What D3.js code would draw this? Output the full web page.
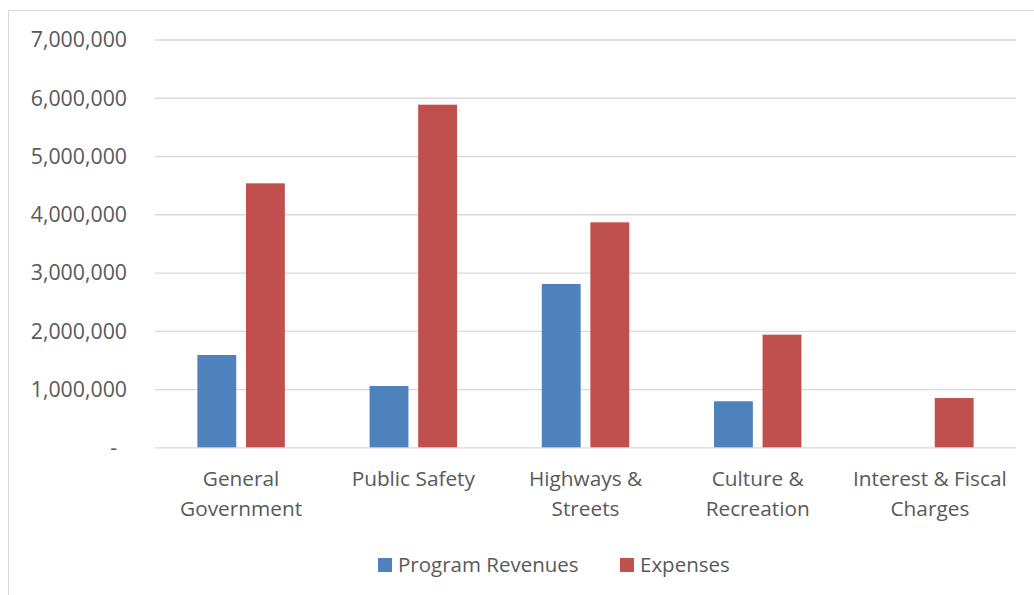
<!DOCTYPE html>
<html><head><meta charset="utf-8">
<script src="https://cdn.jsdelivr.net/npm/d3@7"></script>
<style>
html,body{margin:0;padding:0;background:#fff;}
svg text{font-family:"Open Sans",sans-serif;fill:#595959;}
</style></head>
<body>
<svg id="chart" width="1034" height="595"></svg>
<script>
const categories = ["General Government", "Public Safety", "Highways & Streets", "Culture & Recreation", "Interest & Fiscal Charges"];
const categoryLines = [["General", "Government"], ["Public Safety"], ["Highways &", "Streets"], ["Culture &", "Recreation"], ["Interest & Fiscal", "Charges"]];
const seriesNames = ["Program Revenues", "Expenses"];
const programRevenues = [1584000, 1052000, 2803000, 790000, 0];
const expenses = [4531000, 5881000, 3862000, 1933000, 846000];
const yTicks = [0, 1000000, 2000000, 3000000, 4000000, 5000000, 6000000, 7000000];
const colors = ["#4f81bd", "#c0504d"];

(function () {
const svg = d3.select("#chart");
const W = 1034, H = 595;
const pLeft = 155, pRight = 1016, pTop = 39.5, pBottom = 447.3;

// outer border
svg.append("rect").attr("x", 8.5).attr("y", 10.5).attr("width", W).attr("height", H)
  .attr("fill", "none").attr("stroke", "#d9d9d9").attr("stroke-width", 1);

const x0 = d3.scaleBand().domain(categories).range([pLeft, pRight]).paddingInner(0).paddingOuter(0);
const y = d3.scaleLinear().domain([0, 7000000]).range([pBottom, pTop]);
const bw = x0.bandwidth() / (2.25 + 2.18);
const x1 = d3.scaleOrdinal().domain(seriesNames).range([-1.125 * bw, 0.125 * bw]);

// gridlines
const yAxis = d3.axisLeft(y).tickValues(yTicks).tickSize(-(pRight - pLeft)).tickPadding(28)
  .tickFormat(d => d === 0 ? "-" : d3.format(",")(d));
const gy = svg.append("g").attr("transform", `translate(${pLeft},0)`).call(yAxis);
gy.select(".domain").remove();
gy.selectAll(".tick line").attr("stroke", "#d9d9d9").attr("stroke-width", 1.3);
gy.selectAll(".tick text").attr("font-size", 21.3).attr("fill", "#595959").attr("dy", "0.35em")
  .attr("dx", d => d === 0 ? -10 : 0);

// bars
const data = categories.map((c, i) => ({cat: c, vals: [programRevenues[i], expenses[i]]}));
const groups = svg.append("g").selectAll("g").data(data).join("g")
  .attr("transform", d => `translate(${x0(d.cat) + x0.bandwidth() / 2},0)`);
groups.selectAll("rect").data(d => d.vals.map((v, j) => ({name: seriesNames[j], v, j})).filter(e => e.v > 0))
  .join("rect")
  .attr("x", d => x1(d.name))
  .attr("width", bw)
  .attr("y", d => y(d.v))
  .attr("height", d => y(0) - y(d.v))
  .attr("fill", d => colors[d.j]);

// category labels
const xl = svg.append("g");
categories.forEach((c, i) => {
  const cx = x0(c) + x0.bandwidth() / 2;
  const t = xl.append("text").attr("text-anchor", "middle").attr("font-size", 20.8)
    .attr("x", cx).attr("y", 486);
  categoryLines[i].forEach((ln, k) => {
    t.append("tspan").attr("x", cx).attr("dy", k === 0 ? 0 : 30).text(ln);
  });
});

// legend
const legendX = [378, 620];
const lg = svg.append("g");
seriesNames.forEach((s, i) => {
  lg.append("rect").attr("x", legendX[i]).attr("y", 558).attr("width", 14).attr("height", 14).attr("fill", colors[i]);
  lg.append("text").attr("x", legendX[i] + 20).attr("y", 565).attr("dy", "0.35em").attr("font-size", 20.5).text(s);
});
})();
</script>
</body></html>
